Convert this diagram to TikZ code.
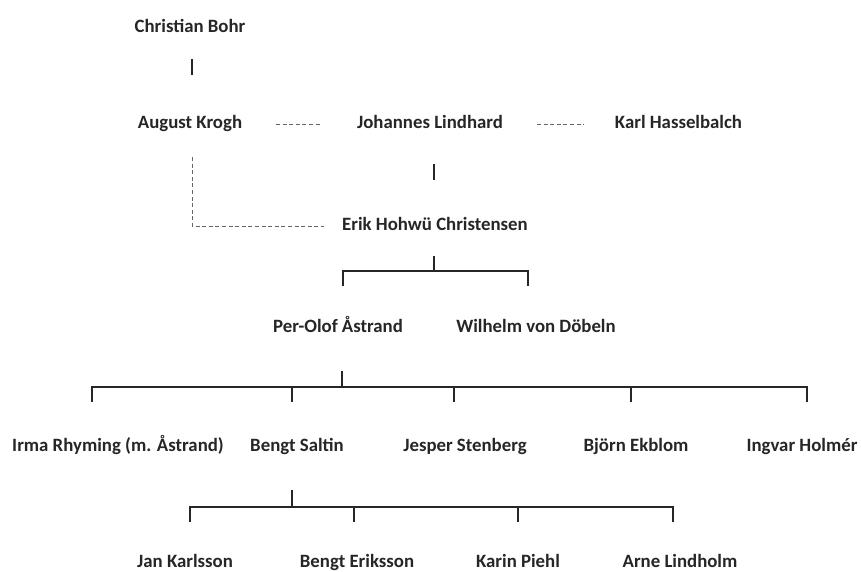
\documentclass[tikz,border=0pt]{standalone}
\usepackage{fontspec}
\setmainfont{Carlito}
\begin{document}
\begin{tikzpicture}[x=1pt,y=-1pt,
  person/.style={font=\fontsize{18.8}{20}\selectfont\bfseries, text=black!85,
    inner sep=0pt, text height=12pt, text depth=0pt},
  link/.style={draw, line width=1.2pt, black!85},
  bar/.style={draw, line width=1.8pt, black!85},
  loose/.style={draw, line width=0.8pt, black!60, dash pattern=on 4pt off 2.6pt}]
\useasboundingbox (0,0) rectangle (861,571);
% persons
\node[person] (bohr) at (190,26) {Christian Bohr};
\node[person] (krogh) at (190,122.5) {August Krogh};
\node[person] (lindhard) at (430,122.5) {Johannes Lindhard};
\node[person] (hassel) at (678.5,122.5) {Karl Hasselbalch};
\node[person] (erik) at (435,224.5) {Erik Hohwü Christensen};
\node[person] (astrand) at (338,326.5) {Per-Olof Åstrand};
\node[person] (dobeln) at (536,326.5) {Wilhelm von Döbeln};
\node[person] (irma) at (118,445) {Irma Rhyming (m. Åstrand)};
\node[person] (saltin) at (297,445) {Bengt Saltin};
\node[person] (jesper) at (465,445) {Jesper Stenberg};
\node[person] (bjorn) at (636,445) {Björn Ekblom};
\node[person] (ingvar) at (802,445) {Ingvar Holmér};
\node[person] (jan) at (185,561) {Jan Karlsson};
\node[person] (bengt) at (357,561) {Bengt Eriksson};
\node[person] (karin) at (518,561) {Karin Piehl};
\node[person] (arne) at (680,561) {Arne Lindholm};

% tick ends
\coordinate (b1) at (192,59);  \coordinate (b2) at (192,75);
\coordinate (l1) at (434,164); \coordinate (l2) at (434,180);
\coordinate (e1) at (434,256); \coordinate (e2) at (434,271);
\coordinate (eL) at (343,271); \coordinate (eR) at (528,271);
\coordinate (eLd) at (343,286); \coordinate (eRd) at (528,286);
\coordinate (a1) at (342,371); \coordinate (a2) at (342,387);
\coordinate (aL) at (92,387);  \coordinate (aR) at (807,387);
\coordinate (c1) at (92,402);  \coordinate (c2) at (292,402);
\coordinate (c3) at (454,402); \coordinate (c4) at (631,402);
\coordinate (c5) at (807,402);
\coordinate (s1) at (292,490); \coordinate (s2) at (292,507);
\coordinate (sL) at (190,507); \coordinate (sR) at (673,507);
\coordinate (d1) at (190,522); \coordinate (d2) at (354,522);
\coordinate (d3) at (518,522); \coordinate (d4) at (673,522);
\coordinate (k1) at (276,124); \coordinate (k2) at (322,124);
\coordinate (h1) at (537,124); \coordinate (h2) at (584,124);
\coordinate (v1) at (192,157); \coordinate (v2) at (324,226);

\path[bar] (b1) -- (b2);
\path[link] (l1) -- (l2);
\path[link] (e1) -- (e2);
\path[link] (eLd) -- (eL) -- (eR) -- (eRd);
\path[link] (a1) -- (a2);
\path[bar] (c1) -- (aL) -- (aR) -- (c5);
\path[bar] (c2) -- (c2 |- aL);
\path[bar] (c3) -- (c3 |- aL);
\path[bar] (c4) -- (c4 |- aL);
\path[link] (s1) -- (s2);
\path[bar] (d1) -- (sL) -- (sR) -- (d4);
\path[bar] (d2) -- (d2 |- sL);
\path[bar] (d3) -- (d3 |- sL);

\path[loose] (k1) -- (k2);
\path[loose] (h1) -- (h2);
\path[loose] (v1) |- (v2);
\end{tikzpicture}
\end{document}
